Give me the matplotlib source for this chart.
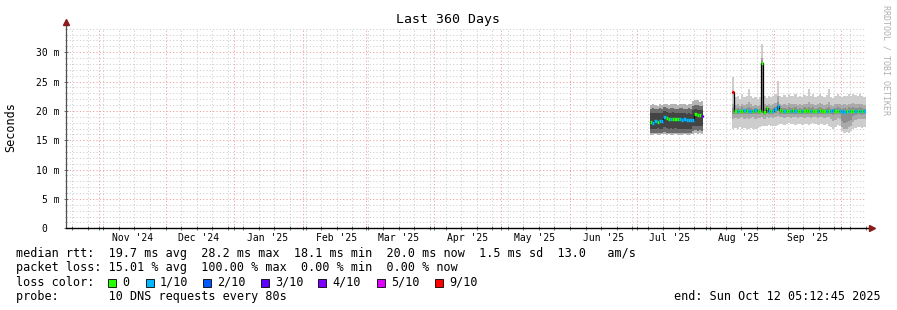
import numpy as np
import pandas as pd
import matplotlib
matplotlib.use("Agg")
import matplotlib.pyplot as plt
import matplotlib.dates as mdates
from matplotlib.ticker import MultipleLocator, FixedLocator
from matplotlib.patches import Rectangle

plt.rcParams["font.family"] = "DejaVu Sans Mono"
plt.rcParams["lines.scale_dashes"] = False

# time window of the graph
t_start = pd.Timestamp("2024-10-17 05:12:45")
t_end = pd.Timestamp("2025-10-12 05:12:45")

month_labels = ["Nov '24", "Dec '24", "Jan '25", "Feb '25", "Mar '25", "Apr '25",
                "May '25", "Jun '25", "Jul '25", "Aug '25", "Sep '25"]
month_label_days = pd.date_range("2024-11-01", periods=11, freq="MS") + pd.Timedelta(days=15)

ytick_vals = [0, 5, 10, 15, 20, 25, 30]
ytick_labels = ["0  ", "5 m", "10 m", "15 m", "20 m", "25 m", "30 m"]

# loss legend
loss_levels = [0, 1, 2, 3, 4, 5, 9]
loss_names = ["0", "1/10", "2/10", "3/10", "4/10", "5/10", "9/10"]
loss_colors = ["#26ff00", "#00b8ff", "#0059ff", "#5e00ff", "#7e00ff", "#dd00ff", "#ff0000"]

# ---- segment 1: Jul 7 - Jul 30 2025 (daily, ms) ----
seg1_start = "2025-07-07"
med1 = [18.1, 18.0, 18.2, 18.1, 18.3, 18.2, 19.0, 18.8, 18.7, 18.6, 18.7, 18.6, 18.7,
        18.6, 18.5, 18.6, 18.5, 18.5, 18.4, 18.5, 19.4, 19.3, 19.3, 19.1]
loss1 = [0, 1, 1, 0, 1, 1, 1, 0, 0, 1, 0, 0, 0, 1, 1, 1, 1, 1, 1, 1, 0, 0, 0, 4]
hi1_1 = [21.0, 21.1, 21.0, 20.9, 21.1, 21.0, 21.2, 21.1, 21.0, 21.1, 21.2, 21.1, 21.0,
         21.1, 21.2, 21.1, 21.0, 21.1, 21.1, 21.7, 21.9, 21.8, 21.6, 21.7]
hi2_1 = [20.4, 20.5, 20.4, 20.3, 20.5, 20.4, 20.6, 20.5, 20.4, 20.5, 20.5, 20.4, 20.4,
         20.5, 20.5, 20.4, 20.4, 20.5, 20.4, 20.9, 21.0, 21.0, 20.8, 20.9]
hi3_1 = [19.6, 19.7, 19.6, 19.6, 19.7, 19.6, 19.9, 19.8, 19.7, 19.7, 19.8, 19.7, 19.7,
         19.6, 19.6, 19.6, 19.5, 19.6, 19.5, 20.2, 20.3, 20.2, 20.1, 20.2]
lo3_1 = [17.0, 16.9, 17.0, 17.1, 16.9, 17.0, 17.2, 17.1, 17.0, 17.1, 17.0, 17.1, 17.0,
         17.0, 16.9, 17.0, 17.0, 16.9, 17.0, 17.4, 17.5, 17.4, 17.5, 17.4]
lo2_1 = [16.3, 16.2, 16.3, 16.3, 16.2, 16.3, 16.4, 16.3, 16.3, 16.2, 16.3, 16.3, 16.2,
         16.3, 16.2, 16.3, 16.3, 16.2, 16.3, 16.6, 16.7, 16.6, 16.7, 16.6]
lo1_1 = [15.9, 15.9, 16.0, 15.9, 15.9, 16.0, 16.0, 15.9, 16.0, 15.9, 15.9, 16.0, 15.9,
         15.9, 15.9, 16.0, 15.9, 15.9, 16.0, 16.1, 16.2, 16.1, 16.2, 16.1]

# ---- segment 2: Aug 13 - Oct 11 2025 (daily, ms) ----
seg2_start = "2025-08-13"
med2 = [23.2,
        20.0, 19.9, 20.0, 20.0, 20.1, 20.0, 19.9, 20.0, 20.0, 20.1, 20.0, 20.0,
        28.2, 19.8, 20.5, 20.0, 20.0, 19.9,
        20.3, 20.8,
        20.1, 20.0, 20.0, 19.9, 20.0, 20.0, 20.1, 20.0, 19.9, 20.0, 20.0, 20.0, 20.1, 20.0,
        20.0, 19.9, 20.0, 20.0, 20.1, 20.0, 20.0, 19.9, 20.0, 20.0, 20.1, 20.0, 20.0, 19.9,
        19.9, 19.8, 19.9, 20.0, 19.9, 20.0, 20.0, 19.9, 20.0, 20.0, 20.0]
loss2 = [9,
         0, 1, 0, 0, 1, 0, 1, 1, 0, 1, 0, 0,
         0, 0, 0, 1, 0, 1,
         1, 1,
         0, 0, 1, 0, 0, 1, 0, 1, 0, 0, 1, 0, 0, 0,
         1, 0, 0, 1, 0, 0, 0, 1, 0, 1, 1, 0, 0, 1,
         1, 1, 0, 1, 0, 0, 1, 0, 1, 0, 1]
hi1_2 = [25.8, 22.4, 22.6, 22.1, 22.8, 22.3, 22.5, 23.7, 22.6, 22.2, 22.4, 22.0, 22.3,
         31.4, 22.5, 22.2, 22.6, 22.3, 22.5,
         22.8, 25.1, 22.6, 22.4, 22.7, 22.3, 22.9, 22.5, 22.6, 22.8, 22.4, 22.6, 22.3, 22.7,
         22.5, 23.7, 22.6, 22.8, 22.4, 22.5, 22.9, 22.6, 22.3, 22.7, 23.7, 22.4, 22.2, 22.6,
         22.8, 22.5,
         22.4, 22.6, 22.5, 22.8, 22.6, 22.9, 22.7, 22.5, 22.8, 22.6, 22.4]
hi2_2 = [21.2, 21.0, 21.1, 20.9, 21.2, 21.0, 21.1, 21.6, 21.1, 20.9, 21.0, 20.9, 21.0,
         29.0, 21.1, 21.0, 21.1, 21.0, 21.1,
         21.3, 22.6, 21.2, 21.0, 21.2, 21.0, 21.3, 21.1, 21.2, 21.2, 21.0, 21.1, 21.0, 21.2,
         21.1, 21.5, 21.1, 21.2, 21.0, 21.1, 21.3, 21.1, 21.0, 21.2, 21.5, 21.0, 20.9, 21.1,
         21.2, 21.1,
         21.0, 21.1, 21.0, 21.2, 21.1, 21.3, 21.2, 21.1, 21.2, 21.1, 21.0]
hi3_2 = [20.5, 20.4, 20.5, 20.4, 20.6, 20.4, 20.5, 20.7, 20.5, 20.4, 20.5, 20.4, 20.4,
         28.6, 20.5, 20.8, 20.5, 20.4, 20.5,
         20.7, 21.6, 20.6, 20.5, 20.5, 20.4, 20.6, 20.5, 20.5, 20.6, 20.4, 20.5, 20.4, 20.6,
         20.5, 20.7, 20.5, 20.6, 20.4, 20.5, 20.6, 20.5, 20.4, 20.5, 20.7, 20.4, 20.4, 20.5,
         20.6, 20.5,
         20.4, 20.5, 20.4, 20.6, 20.5, 20.6, 20.5, 20.5, 20.6, 20.5, 20.4]
lo3_2 = [19.4, 19.5, 19.4, 19.5, 19.5, 19.4, 19.5, 19.4, 19.5, 19.5, 19.4, 19.5, 19.5,
         19.6, 19.3, 19.7, 19.5, 19.5, 19.4,
         19.6, 19.9, 19.5, 19.5, 19.4, 19.5, 19.5, 19.4, 19.5, 19.5, 19.4, 19.5, 19.5, 19.4,
         19.5, 19.5, 19.4, 19.5, 19.5, 19.4, 19.5, 19.5, 19.4, 19.5, 19.5, 19.4, 19.3, 19.5,
         19.5, 19.4,
         18.2, 18.0, 18.1, 18.3, 18.4, 19.2, 19.3, 19.4, 19.4, 19.3, 19.4]
lo2_2 = [18.7, 18.8, 18.7, 18.8, 18.9, 18.7, 18.8, 18.7, 18.8, 18.9, 18.7, 18.8, 18.8,
         19.0, 18.6, 18.9, 18.8, 18.9, 18.8,
         19.0, 19.2, 18.9, 18.9, 18.8, 18.9, 18.9, 18.8, 18.9, 18.9, 18.8, 18.9, 18.9, 18.8,
         18.9, 18.9, 18.8, 18.9, 18.9, 18.8, 18.9, 18.9, 18.8, 18.9, 18.9, 18.6, 18.2, 18.5,
         18.8, 18.7,
         17.3, 17.0, 16.9, 17.2, 17.4, 18.1, 18.4, 18.6, 18.7, 18.6, 18.7]
lo1_2 = [17.0, 17.1, 16.9, 17.2, 16.9, 17.1, 17.0, 16.9, 17.1, 17.0, 16.9, 17.1, 17.2,
         17.5, 17.4, 17.5, 17.6, 17.5, 17.4,
         17.5, 17.6, 17.7, 17.8, 17.6, 17.7, 17.9, 17.7, 17.8, 17.6, 17.7, 17.8, 17.6, 17.7,
         17.8, 17.6, 17.7, 17.9, 17.7, 17.6, 17.8, 17.7, 17.6, 17.8, 17.4, 17.2, 17.0, 17.3,
         17.6, 17.5,
         16.5, 16.3, 16.4, 16.3, 16.6, 16.9, 17.1, 17.2, 17.3, 17.1, 17.2]

seg1_shades = ["#b4b4b4", "#6c6c6c", "#444444"]
seg2_shades = ["#cdcdcd", "#a9a9a9", "#8e8e8e"]

W, H = 897, 310


def fx(px):
    return px / W


def fy(py):
    return 1 - py / H


fig = plt.figure(figsize=(8.97, 3.10), dpi=100)
fig.patch.set_facecolor("white")
y_top = 34.2
ax = fig.add_axes([fx(66), fy(228.3), 800 / W, (y_top * 5.87) / H])
ax.set_facecolor("white")


def edges(start, n):
    return mdates.date2num(pd.date_range(start, periods=n + 1, freq="D").to_pydatetime())


def draw_segment(start, med, loss, bands, shades):
    n = len(med)
    x = edges(start, n)
    for (lo, hi), c in zip(bands, shades):
        ax.fill_between(x, list(lo) + [lo[-1]], list(hi) + [hi[-1]], step="post",
                        color=c, lw=0, zorder=2)
    ax.step(x, list(med) + [med[-1]], where="post", color="black", lw=0.9, zorder=3)
    cmap = dict(zip(loss_levels, loss_colors))
    ax.hlines(med, x[:-1], x[1:], colors=[cmap[l] for l in loss], lw=2.4, zorder=4,
              capstyle="butt")


draw_segment(seg1_start, med1, loss1,
             [(lo1_1, hi1_1), (lo2_1, hi2_1), (lo3_1, hi3_1)], seg1_shades)
draw_segment(seg2_start, med2, loss2,
             [(lo1_2, hi1_2), (lo2_2, hi2_2), (lo3_2, hi3_2)], seg2_shades)

ax.set_xlim(mdates.date2num(t_start.to_pydatetime()), mdates.date2num(t_end.to_pydatetime()))
ax.set_ylim(0, y_top)

# grid
ax.xaxis.set_major_locator(mdates.MonthLocator())
ax.xaxis.set_minor_locator(mdates.WeekdayLocator(byweekday=mdates.SU))
ax.yaxis.set_major_locator(FixedLocator(ytick_vals))
ax.yaxis.set_minor_locator(MultipleLocator(1))
ax.set_yticklabels(ytick_labels)
ax.set_axisbelow(True)
ax.grid(which="minor", color="#cccccc", linestyle=(0, (0.8, 1.6)), lw=0.7)
ax.grid(which="major", color="#f09a9a", linestyle=(0, (0.8, 1.6)), lw=0.7)

for s in ax.spines.values():
    s.set_visible(False)
ax.tick_params(axis="x", which="both", labelbottom=False, direction="inout",
               color="#555555", length=2.5, width=0.6)
ax.tick_params(axis="y", which="major", labelsize=7, pad=3, direction="inout",
               color="#555555", length=3, width=0.6)
ax.tick_params(axis="y", which="minor", direction="inout", color="#888888",
               length=1.5, width=0.5)

# axis lines with arrows
ax.plot([0, 0], [0, 1.02], transform=ax.transAxes, color="#505050", lw=0.9, clip_on=False, zorder=5)
ax.plot([0], [1.027], marker="^", ms=4.5, color="#8b1a1a", transform=ax.transAxes,
        clip_on=False, zorder=6)
ax.plot([0, 1.004], [0, 0], transform=ax.transAxes, color="black", lw=1.0, clip_on=False, zorder=5)
ax.plot([1.007], [0], marker=">", ms=4.5, color="#8b1a1a", transform=ax.transAxes,
        clip_on=False, zorder=6)

# month labels at mid-month
for d, lab in zip(month_label_days, month_labels):
    ax.text(mdates.date2num(d.to_pydatetime()), -0.047, lab, transform=ax.get_xaxis_transform(),
            ha="center", va="center", fontsize=7)

fig.text(fx(448), fy(19.5), "Last 360 Days", ha="center", va="center", fontsize=9.5)
fig.text(fx(11), fy(127.5), "Seconds", rotation=90, ha="center", va="center", fontsize=8.5)
fig.text(fx(886), fy(60), "RRDTOOL / TOBI OETIKER", rotation=270, ha="center", va="center",
         fontsize=6, color="#b0b0b0")

# legend block
fs = 8.5
fig.text(fx(16), fy(253.5),
         "median rtt:  19.7 ms avg  28.2 ms max  18.1 ms min  20.0 ms now  1.5 ms sd  13.0   am/s",
         ha="left", va="center", fontsize=fs)
fig.text(fx(16), fy(268),
         "packet loss: 15.01 % avg  100.00 % max  0.00 % min  0.00 % now",
         ha="left", va="center", fontsize=fs)
fig.text(fx(16), fy(282), "loss color:", ha="left", va="center", fontsize=fs)
fig.text(fx(16), fy(296.3), "probe:       10 DNS requests every 80s",
         ha="left", va="center", fontsize=fs)
fig.text(fx(881), fy(296.3), "end: Sun Oct 12 05:12:45 2025", ha="right", va="center", fontsize=fs)

box_x = [108, 146, 203, 261, 318, 377, 435]
for bx, name, c in zip(box_x, loss_names, loss_colors):
    fig.add_artist(Rectangle((fx(bx), fy(286.5)), 8 / W, 8 / H, transform=fig.transFigure,
                             facecolor=c, edgecolor="black", lw=0.6))
    fig.text(fx(bx + 14), fy(282), name, ha="left", va="center", fontsize=fs)

fig.savefig("out.png", dpi=100)
